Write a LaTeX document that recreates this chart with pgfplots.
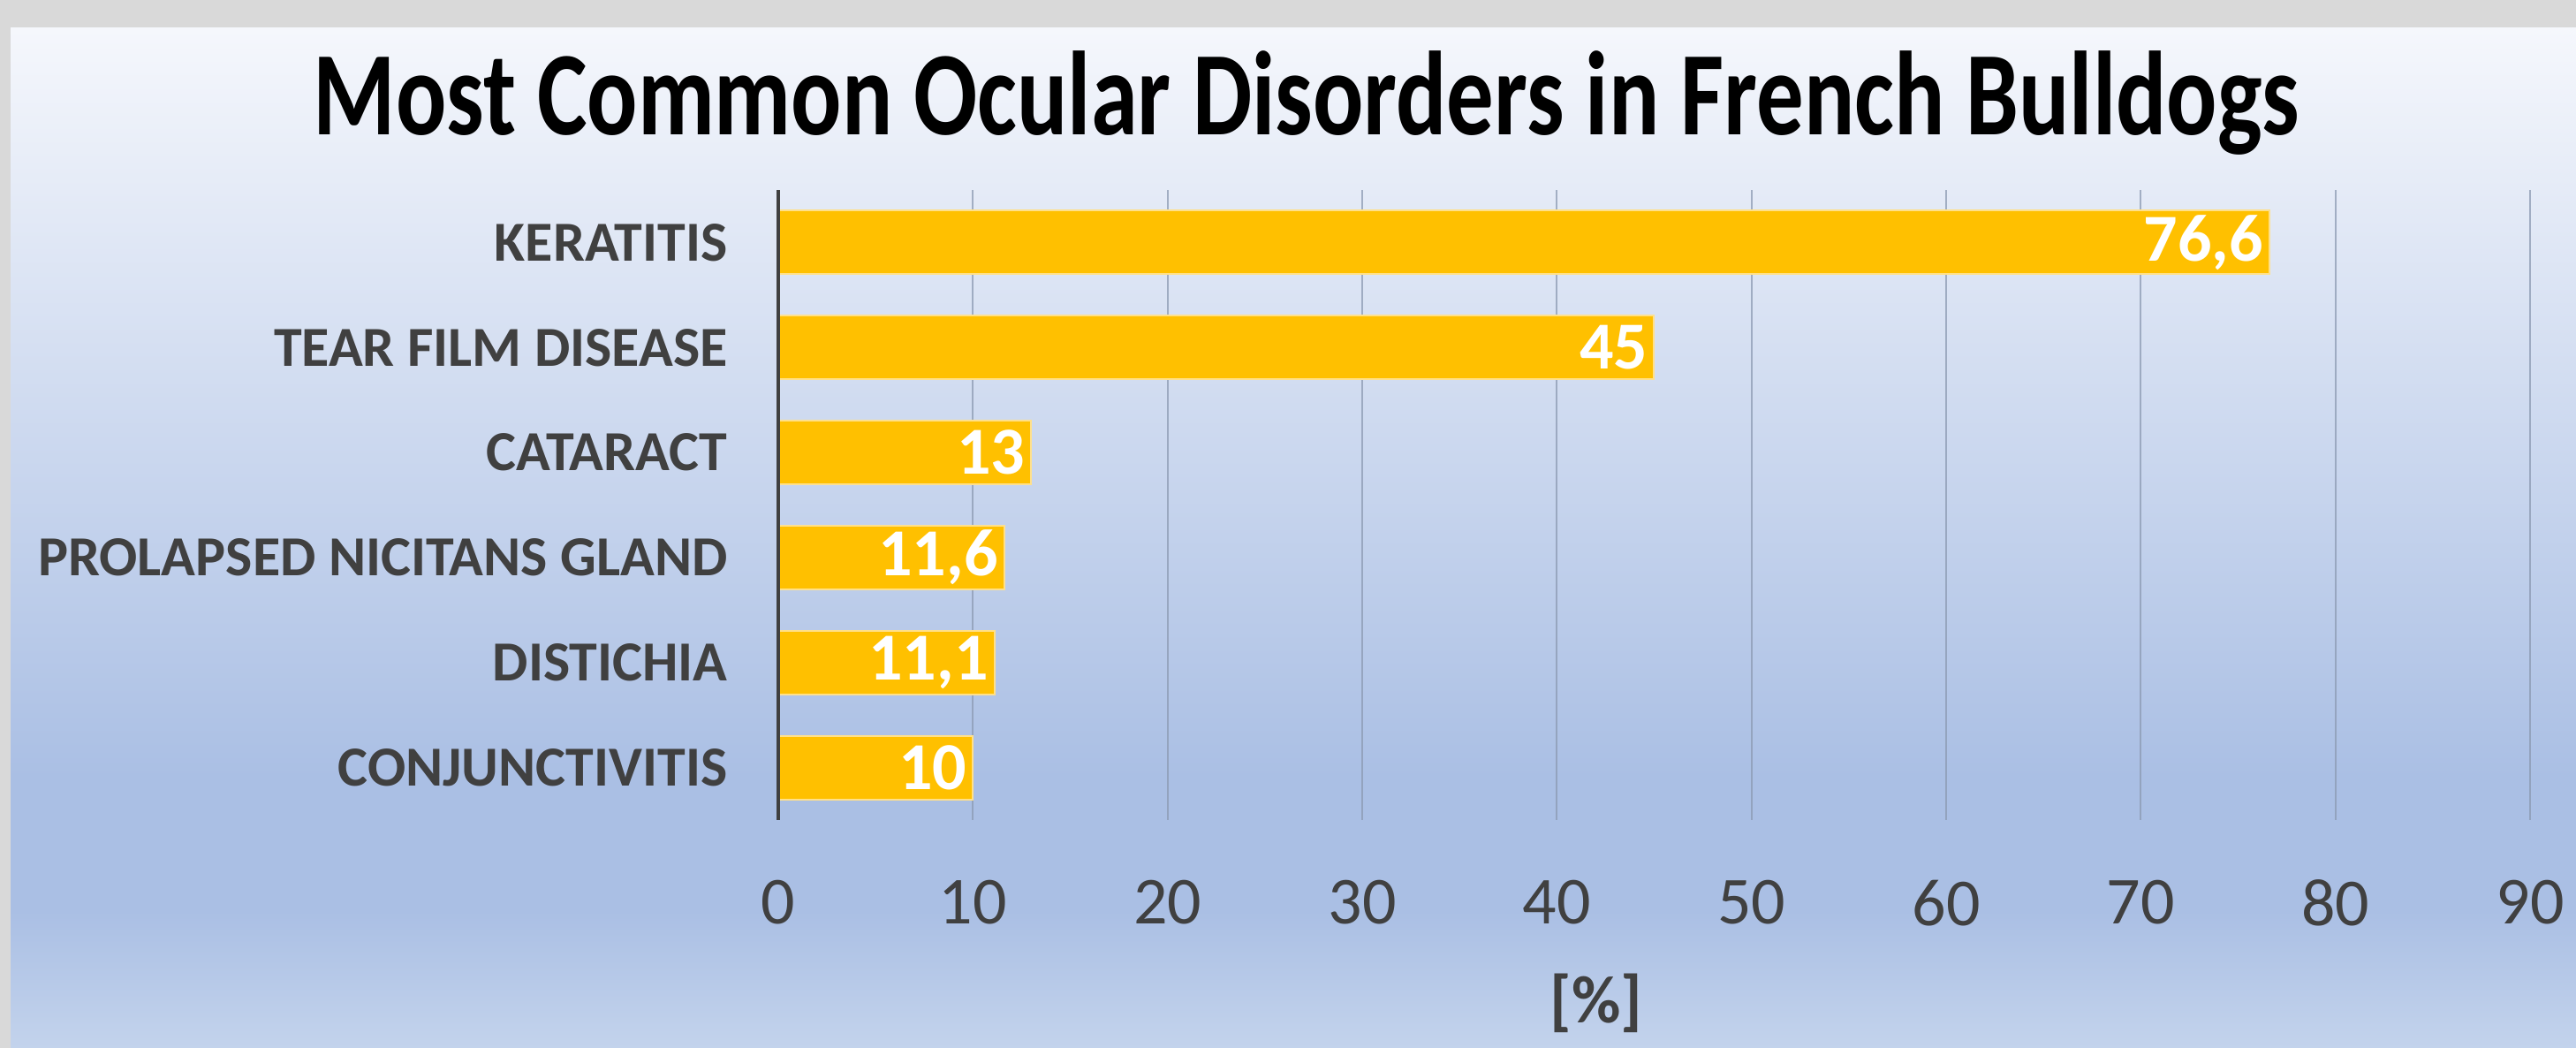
\documentclass[border=0pt]{standalone}
\usepackage{pgfplots}
\pgfplotsset{compat=1.18}
\usepackage{fontspec}
\setmainfont{Carlito}
\definecolor{txt}{HTML}{404040}
\definecolor{barc}{HTML}{FFC000}
\definecolor{barline}{HTML}{FFE08A}
\definecolor{bgtop}{HTML}{F5F7FC}
\definecolor{bgmid}{HTML}{AABFE4}
\definecolor{bgbot}{HTML}{C3D3EC}
\definecolor{frame}{HTML}{D9D9D9}
\definecolor{gridc}{HTML}{8C9AB2}
\begin{document}
\begin{tikzpicture}
\useasboundingbox (0,0) rectangle (729pt,296.5pt);
\fill[frame] (0,0) rectangle (729pt,296.5pt);
\shade[top color=bgtop,bottom color=bgmid] (3pt,76.5pt) rectangle (729pt,288.5pt);
\fill[bgmid] (3pt,38.9pt) rectangle (729pt,76.6pt);
\shade[top color=bgmid,bottom color=bgbot] (3pt,0pt) rectangle (729pt,39pt);
\node[anchor=base,font=\fontsize{33.8}{40}\selectfont\bfseries,text=black] at (369.75pt,258.25pt) {\scalebox{0.79}[1]{Most Common Ocular Disorders in French Bulldogs}};
\begin{axis}[
  at={(220.25pt,64.5pt)}, anchor=south west,
  scale only axis, width=495.75pt, height=178.25pt,
  xmin=0, xmax=90, ymin=-0.5, ymax=5.5, y dir=reverse,
  xtick={0,10,...,90}, ytick={0,...,5},
  yticklabels={KERATITIS,TEAR FILM DISEASE,CATARACT,PROLAPSED NICITANS GLAND,DISTICHIA,CONJUNCTIVITIS},
  /pgf/number format/assume math mode=true,
  major tick length=0pt,
  axis x line*=bottom, axis y line*=left,
  x axis line style={draw=none},
  y axis line style={draw=txt,line width=1.1pt,-},
  xmajorgrids, grid style={gridc, line width=0.45pt, opacity=0.75},
  xticklabel style={font=\fontsize{19}{22}\selectfont, text=txt, yshift=-13.4pt},
  yticklabel style={font=\fontsize{16}{19}\selectfont\bfseries, text=txt, xshift=-10.8pt},
  xbar, bar width=18pt,
  clip=false,
]
\addplot[fill=barc, draw=barline, line width=0.5pt,
  nodes near coords={\pgfmathprintnumber[use comma,fixed,precision=1,assume math mode=true]{\pgfplotspointmeta}},
  point meta=x,
  nodes near coords align={anchor=east},
  every node near coord/.append style={anchor=east, text=white, font=\fontsize{19}{22}\selectfont\bfseries, inner sep=1.5pt},
] coordinates {(76.6,0) (45,1) (13,2) (11.6,3) (11.1,4) (10,5)};
\draw[txt, line width=1.1pt] (axis cs:0,-0.5) -- (axis cs:0,5.5);
\end{axis}
\node[font=\fontsize{19}{22}\selectfont\bfseries,text=txt] at (451.75pt,12.75pt) {[\%]};
\end{tikzpicture}
\end{document}
